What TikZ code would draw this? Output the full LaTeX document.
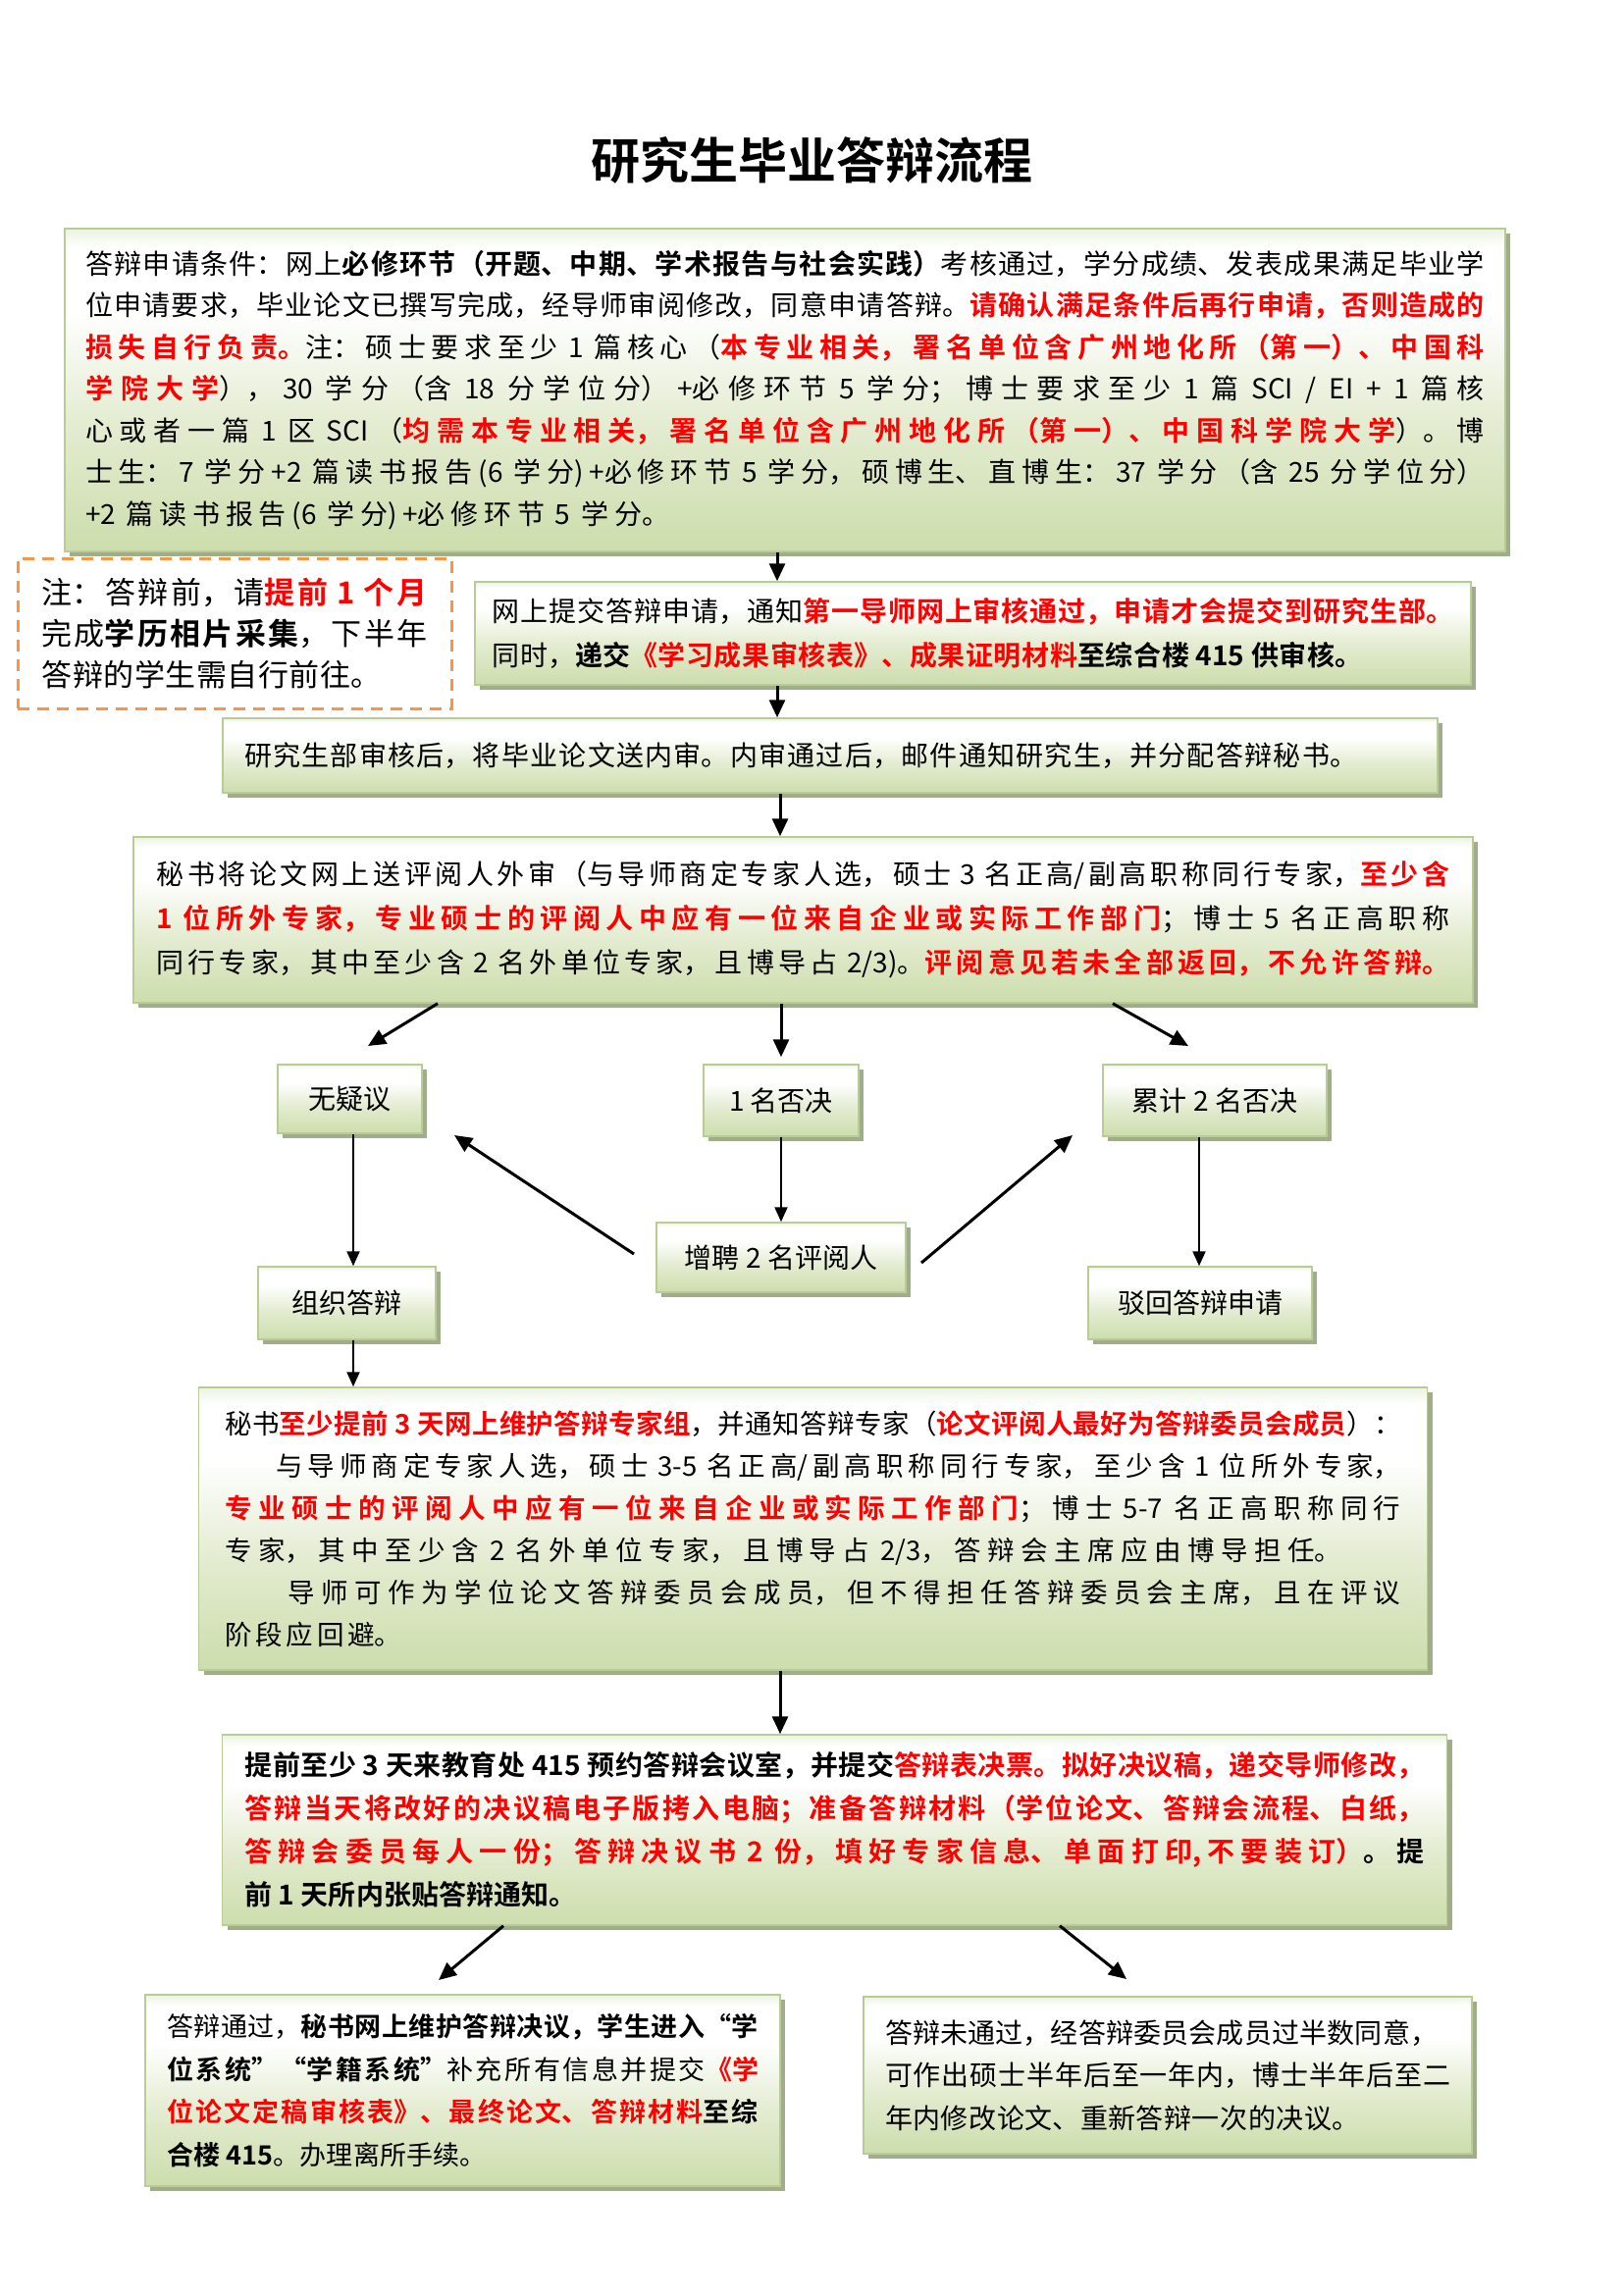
\documentclass[tikz,border=0pt]{standalone}
\usepackage{fontspec}
\setmainfont{Noto Sans CJK SC}[BoldFont={Noto Sans CJK SC Bold}]
\usetikzlibrary{arrows.meta,shadows}
\XeTeXlinebreaklocale "zh"
\XeTeXlinebreakskip=0pt plus 4pt minus 0.5pt
\tolerance=10000
\hbadness=10000
\definecolor{gbot}{RGB}{205,221,172}
\definecolor{gtop}{RGB}{236,243,224}
\definecolor{gline}{RGB}{185,204,150}
\definecolor{gshadow}{RGB}{160,172,140}
\definecolor{nred}{RGB}{255,0,0}
\definecolor{dorange}{RGB}{247,150,70}
\pgfdeclareverticalshading{gboxshade}{100bp}{color(0bp)=(gbot); color(25bp)=(gbot); color(45bp)=(gbot!55!white); color(62bp)=(white); color(72bp)=(white); color(75bp)=(gtop); color(100bp)=(gtop)}
\newcommand\redb[1]{\textcolor{nred}{\bfseries #1}}
\newcommand\blkb[1]{{\bfseries #1}}
\newcommand\fillto[1]{\hspace*{#1}\mbox{}}
\newcommand\nofill{\parfillskip=0pt\relax}
\tikzset{
  gbase/.style={rectangle, draw=gline, line width=1.5pt, shade, shading=gboxshade, inner sep=0pt,
    drop shadow={shadow xshift=5pt, shadow yshift=-5pt, fill=gshadow, opacity=1}},
  gbox/.style={gbase, align=justify},
  sbox/.style={gbase, align=center, font=\fontsize{28pt}{34pt}\selectfont},
  notebox/.style={rectangle, draw=dorange, line width=3pt, dash pattern=on 12pt off 8pt, fill=white, inner sep=0pt, align=justify},
  arr/.style={line width=3pt, -{Triangle[length=18pt,width=16pt]}},
  arrthin/.style={line width=2pt, -{Triangle[length=15pt,width=13pt]}}
}
\begin{document}
\begin{tikzpicture}[x=1pt,y=-1pt]
\useasboundingbox (0,0) rectangle (1654,2339);
\fill[white] (0,0) rectangle (1654,2339);

\node[font=\fontsize{50pt}{60pt}\selectfont\bfseries] (title) at (827.5,163) {研究生毕业答辩流程};

\node[gbox, minimum width=1468pt, minimum height=329pt, text width=1426pt, font=\fontsize{28pt}{42.5pt}\selectfont] (b1) at (800,397.5) {\nofill 答辩申请条件：网上\blkb{必修环节（开题、中期、学术报告与社会实践）}考核通过，学分成绩、发表成果满足毕业学\linebreak%
位申请要求，毕业论文已撰写完成，经导师审阅修改，同意申请答辩。\redb{请确认满足条件后再行申请，否则造成的}\linebreak%
\redb{损失自行负责。}注：硕士要求至少 1 篇核心（\redb{本专业相关，署名单位含广州地化所（第一）、中国科}\linebreak%
\redb{学院大学}），30 学分（含 18 分学位分）+必修环节 5 学分；博士要求至少 1 篇 SCI / EI + 1 篇核\linebreak%
心或者一篇 1 区 SCI（\redb{均需本专业相关，署名单位含广州地化所（第一）、中国科学院大学}）。博\linebreak%
士生：7 学分+2 篇读书报告(6 学分)+必修环节 5 学分，硕博生、直博生：37 学分（含 25 分学位分）\linebreak%
+2 篇读书报告(6 学分)+必修环节 5 学分。\fillto{831pt}\par};

\node[notebox, minimum width=442pt, minimum height=153pt, text width=393pt, font=\fontsize{31pt}{42pt}\selectfont] (note) at (239,645.5) {\nofill 注：答辩前，请\redb{提前 1 个月}\linebreak%
完成\blkb{学历相片采集}，下半年\linebreak%
答辩的学生需自行前往。\fillto{47pt}\par};

\node[gbox, minimum width=1015pt, minimum height=105pt, text width=980pt, font=\fontsize{28pt}{45pt}\selectfont] (b2) at (991.5,645.5) {\nofill 网上提交答辩申请，通知\redb{第一导师网上审核通过，申请才会提交到研究生部。}\linebreak%
同时，\blkb{递交}\redb{《学习成果审核表》、成果证明材料}\blkb{至综合楼 415 供审核。}\fillto{93pt}\par};

\node[gbox, minimum width=1238pt, minimum height=76pt, text width=1194pt, font=\fontsize{28pt}{40pt}\selectfont] (b3) at (846,770) {\nofill 研究生部审核后，将毕业论文送内审。内审通过后，邮件通知研究生，并分配答辩秘书。\fillto{60pt}\par};

\node[gbox, minimum width=1365pt, minimum height=169pt, text width=1318pt, font=\fontsize{28pt}{45pt}\selectfont] (b4) at (818.5,937.5) {\nofill 秘书将论文网上送评阅人外审（与导师商定专家人选，硕士 3 名正高/副高职称同行专家，\redb{至少含}\linebreak%
\redb{1 位所外专家，专业硕士的评阅人中应有一位来自企业或实际工作部门}；博士 5 名正高职称\linebreak%
同行专家，其中至少含 2 名外单位专家，且博导占 2/3)。\redb{评阅意见若未全部返回，不允许答辩。}\par};

\node[sbox, minimum width=147pt, minimum height=70pt] (n1) at (356.5,1120) {无疑议};
\node[sbox, minimum width=158pt, minimum height=73pt] (n2) at (796,1121.5) {1 名否决};
\node[sbox, minimum width=228pt, minimum height=73pt] (n3) at (1238,1121.5) {累计 2 名否决};
\node[sbox, minimum width=254pt, minimum height=71pt] (n4) at (796,1281.5) {增聘 2 名评阅人};
\node[sbox, minimum width=181pt, minimum height=74pt] (n5) at (353.5,1328) {组织答辩};
\node[sbox, minimum width=228pt, minimum height=74pt] (n6) at (1223,1328) {驳回答辩申请};

\node[gbox, minimum width=1252pt, minimum height=288pt, text width=1198pt, font=\fontsize{27.5pt}{43pt}\selectfont] (b5) at (828.5,1558) {\nofill 秘书\redb{至少提前 3 天网上维护答辩专家组}，并通知答辩专家（\redb{论文评阅人最好为答辩委员会成员}）：\linebreak%
\hspace*{52pt}与导师商定专家人选，硕士 3-5 名正高/副高职称同行专家，至少含 1 位所外专家，\linebreak%
\redb{专业硕士的评阅人中应有一位来自企业或实际工作部门}；博士 5-7 名正高职称同行\linebreak%
专家，其中至少含 2 名外单位专家，且博导占 2/3，答辩会主席应由博导担任。\fillto{60pt}\linebreak%
\hspace*{64pt}导师可作为学位论文答辩委员会成员，但不得担任答辩委员会主席，且在评议\linebreak%
阶段应回避。\fillto{1018pt}\par};

\node[gbox, minimum width=1248pt, minimum height=194pt, text width=1202pt, font=\fontsize{28pt}{44pt}\selectfont] (b6) at (850.5,1865) {\nofill\blkb{提前至少 3 天来教育处 415 预约答辩会议室，并提交}\redb{答辩表决票。拟好决议稿，递交导师修改，}\linebreak%
\redb{答辩当天将改好的决议稿电子版拷入电脑；准备答辩材料（学位论文、答辩会流程、白纸，}\linebreak%
\redb{答辩会委员每人一份；答辩决议书 2 份，填好专家信息、单面打印,不要装订）}\blkb{。提}\linebreak%
\blkb{前 1 天所内张贴答辩通知。}\fillto{864pt}\par};

\node[gbox, minimum width=647pt, minimum height=195pt, text width=603pt, font=\fontsize{27pt}{43.5pt}\selectfont] (b7) at (471.5,2130.5) {\nofill 答辩通过，\blkb{秘书网上维护答辩决议，学生进入“学}\linebreak%
\blkb{位系统”“学籍系统”}补充所有信息并提交\redb{《学}\linebreak%
\redb{位论文定稿审核表》、最终论文、答辩材料}\blkb{至综}\linebreak%
\blkb{合楼 415}。办理离所手续。\fillto{277pt}\par};

\node[gbox, minimum width=620pt, minimum height=160pt, text width=576pt, font=\fontsize{28pt}{43.5pt}\selectfont] (b8) at (1190,2115) {\nofill 答辩未通过，经答辩委员会成员过半数同意，\fillto{13pt}\linebreak%
可作出硕士半年后至一年内，博士半年后至二\linebreak%
年内修改论文、重新答辩一次的决议。\fillto{93pt}\par};

% helper coordinates
\coordinate (xa) at (792,0);
\coordinate (xb) at (795,0);
\coordinate (xc) at (360,0);
\coordinate (xe) at (1222,0);
\coordinate (xd1) at (446,0);
\coordinate (xd3) at (1134,0);
\coordinate (xd6) at (513,0);
\coordinate (xd7) at (1080,0);
\coordinate (t1) at (375,1066);
\coordinate (t3) at (1211,1066);
\coordinate (s1) at (646,1278);
\coordinate (t4) at (463,1157);
\coordinate (s2) at (939,1287);
\coordinate (t5) at (1093,1157);
\coordinate (t6) at (447,2018);
\coordinate (t7) at (1148,2017);

\draw[arr] (b1.south -| xa) -- (b2.north -| xa);
\draw[arr] (b2.south -| xa) -- (b3.north -| xa);
\draw[arr] (b3.south -| xb) -- (b4.north -| xb);
\draw[arr] (b4.south -| xd1) -- (t1);
\draw[arr, shorten >=7pt] (b4.south -| n2.north) -- (n2.north);
\draw[arr] (b4.south -| xd3) -- (t3);
\draw[arrthin] (n1.south -| xc) -- (n5.north -| xc);
\draw[arrthin] (n2.south) -- (n2.south |- n4.north);
\draw[arrthin] (n3.south -| xe) -- (n6.north -| xe);
\draw[arr] (s1) -- (t4);
\draw[arr] (s2) -- (t5);
\draw[arrthin] (n5.south -| xc) -- (b5.north -| xc);
\draw[arr] (b5.south -| xb) -- (b6.north -| xb);
\draw[arr] (b6.south -| xd6) -- (t6);
\draw[arr] (b6.south -| xd7) -- (t7);
\end{tikzpicture}
\end{document}
